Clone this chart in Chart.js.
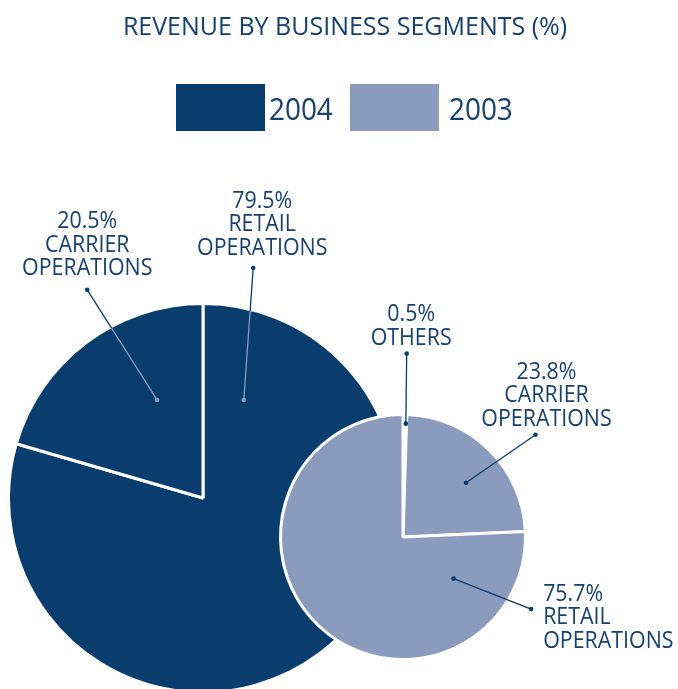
<!DOCTYPE html>
<html><head><meta charset="utf-8">
<script src="https://cdn.jsdelivr.net/npm/chart.js@4/dist/chart.umd.min.js"></script>
<style>
html,body{margin:0;padding:0;background:#fff;overflow:hidden;}
#wrap{position:relative;width:678px;height:689px;}
canvas{position:absolute;left:0;top:0;}
</style></head><body>
<div id="wrap"><canvas id="c1" width="678" height="689"></canvas><canvas id="c2" width="678" height="689"></canvas></div>
<script>
const titleText = 'REVENUE BY BUSINESS SEGMENTS (%)';
const seriesLabels = ['2004', '2003'];
const categories2004 = ['RETAIL OPERATIONS', 'CARRIER OPERATIONS'];
const values2004 = [79.5, 20.5];
const categories2003 = ['OTHERS', 'CARRIER OPERATIONS', 'RETAIL OPERATIONS'];
const values2003 = [0.5, 23.8, 75.7];

const DARK = '#083d6e', LIGHT = '#8a9bbd', TEXT = '#15406f';
const FONT = '{S}px "Open Sans", sans-serif';
const LABEL_SIZE = 23, LABEL_SCALE = 0.93, LINE_H = 23.5;
const seriesColors = [DARK, LIGHT];

// callout layout per slice (fraction along slice, radius fractions, text offset from outer dot)
const callouts2004 = [
  {t: 0.079, rIn: 0.55, tOut: 0.043, rOut: 1.22, dx: 9, dy: -68.7, align: 'center'},
  {t: 0.66, rIn: 0.561, tOut: 0.606, rOut: 1.234, dx: 0, dy: -70, align: 'center'}
];
const callouts2003 = [
  {t: 0.8, rIn: 0.937, tOut: 0.64, rOut: 1.516, dx: 4.5, dy: -41, align: 'center'},
  {t: 0.554, rIn: 0.688, tOut: 0.59, rOut: 1.383, dx: 11, dy: -64.5, align: 'center'},
  {t: 0.154, rIn: 0.541, tOut: 0.117, rOut: 1.215, dx: 12, dy: -17, align: 'left'}
];
const legendLayout = [{box: 176, text: 269}, {box: 350, text: 449}];

function capText(ctx, txt, x, cy, size, align, sx) {
  ctx.font = FONT.replace('{S}', size);
  ctx.textAlign = align;
  ctx.textBaseline = 'alphabetic';
  const capH = ctx.measureText('H').actualBoundingBoxAscent;
  ctx.save();
  ctx.translate(x, cy + capH / 2);
  ctx.scale(sx || 1, 1);
  ctx.fillText(txt, 0, 0);
  ctx.restore();
}

function makeCallouts(callouts, values, cats, innerLight) {
  return {
    id: 'callouts',
    afterDatasetsDraw(chart) {
      const ctx = chart.ctx;
      const meta = chart.getDatasetMeta(0);
      meta.data.forEach((arc, i) => {
        const c = callouts[i];
        const p = arc.getProps(['x', 'y', 'startAngle', 'endAngle', 'outerRadius'], true);
        const R = p.outerRadius - 1.5;
        const aIn = p.startAngle + c.t * (p.endAngle - p.startAngle);
        const aOut = p.startAngle + c.tOut * (p.endAngle - p.startAngle);
        const xi = p.x + Math.cos(aIn) * R * c.rIn, yi = p.y + Math.sin(aIn) * R * c.rIn;
        const xo = p.x + Math.cos(aOut) * R * c.rOut, yo = p.y + Math.sin(aOut) * R * c.rOut;
        ctx.save();
        ctx.lineWidth = 1.3;
        ctx.strokeStyle = DARK;
        ctx.beginPath(); ctx.moveTo(xo, yo); ctx.lineTo(xi, yi); ctx.stroke();
        if (innerLight) {
          ctx.save();
          ctx.beginPath(); ctx.arc(p.x, p.y, R, 0, Math.PI * 2); ctx.clip();
          ctx.strokeStyle = LIGHT;
          ctx.beginPath(); ctx.moveTo(xo, yo); ctx.lineTo(xi, yi); ctx.stroke();
          ctx.restore();
        }
        ctx.fillStyle = DARK;
        ctx.beginPath(); ctx.arc(xo, yo, 2.3, 0, Math.PI * 2); ctx.fill();
        ctx.fillStyle = innerLight ? LIGHT : DARK;
        ctx.beginPath(); ctx.arc(xi, yi, 2.3, 0, Math.PI * 2); ctx.fill();
        const lines = [values[i].toFixed(1) + '%'].concat(cats[i].split(' '));
        ctx.fillStyle = TEXT;
        lines.forEach((ln, k) => capText(ctx, ln, xo + c.dx, yo + c.dy + k * LINE_H, LABEL_SIZE, c.align, LABEL_SCALE));
        ctx.restore();
      });
    }
  };
}

const headerPlugin = {
  id: 'header',
  afterDraw(chart) {
    const ctx = chart.ctx;
    ctx.save();
    ctx.fillStyle = TEXT;
    capText(ctx, titleText, 345, 25.5, 25, 'center', 1);
    seriesLabels.forEach((lab, i) => {
      const L = legendLayout[i];
      ctx.fillStyle = seriesColors[i];
      ctx.fillRect(L.box, 84, 89, 47);
      ctx.fillStyle = TEXT;
      capText(ctx, lab, L.text, 108.8, 31, 'left', 0.9);
    });
    ctx.restore();
  }
};

const baseOpts = (pad) => ({
  responsive: false, animation: false, devicePixelRatio: 1,
  layout: {padding: pad},
  plugins: {legend: {display: false}, tooltip: {enabled: false}, title: {display: false}},
  events: []
});

new Chart(document.getElementById('c1'), {
  type: 'pie',
  data: {labels: categories2004, datasets: [{
    label: seriesLabels[0], data: values2004,
    backgroundColor: [DARK, DARK], borderColor: '#ffffff', borderWidth: 3,
    radius: 194.5, clip: false
  }]},
  options: baseOpts({left: 0, right: 272, top: 307, bottom: 0}),
  plugins: [headerPlugin, makeCallouts(callouts2004, values2004, categories2004, true)]
});

new Chart(document.getElementById('c2'), {
  type: 'pie',
  data: {labels: categories2003, datasets: [{
    label: seriesLabels[1], data: values2003,
    backgroundColor: ['#ffffff', LIGHT, LIGHT], borderColor: '#ffffff', borderWidth: 3,
    radius: 122.5, clip: false
  }]},
  options: baseOpts({left: 128, right: 0, top: 385, bottom: 0}),
  plugins: [makeCallouts(callouts2003, values2003, categories2003, false)]
});
</script></body></html>
